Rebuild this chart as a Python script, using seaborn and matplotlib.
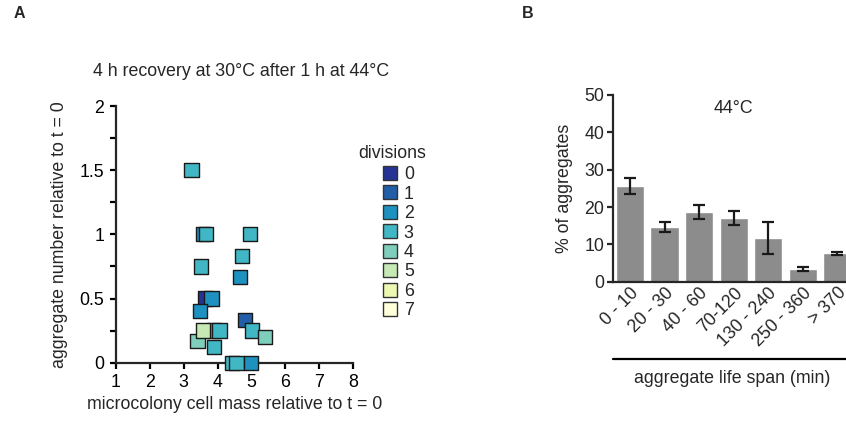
import matplotlib
matplotlib.use("Agg")
import matplotlib.pyplot as plt
from matplotlib.lines import Line2D
import seaborn as sns
import pandas as pd
import numpy as np

sns.set_style("ticks")
plt.rcParams['font.family'] = ['Liberation Sans', 'DejaVu Sans']
FS = 12.8

# Panel A data: microcolony mass vs aggregate number, coloured by divisions
cell_mass = [3.23, 3.57, 3.65, 4.95, 4.72, 3.51, 4.67, 3.64, 3.82, 3.48, 4.81,
             5.02, 5.40, 3.41, 3.90, 3.58, 4.06, 3.89, 4.43, 4.56, 4.99]
agg_number = [1.5, 1.0, 1.0, 1.0, 0.833, 0.75, 0.667, 0.5, 0.5, 0.4, 0.333,
              0.25, 0.2, 0.167, 0.25, 0.25, 0.25, 0.125, 0.0, 0.0, 0.0]
divisions = [3, 2, 3, 3, 3, 3, 2, 0, 2, 2, 1,
             3, 4, 4, 3, 5, 3, 3, 3, 3, 2]
division_levels = [0, 1, 2, 3, 4, 5, 6, 7]
division_colors = ['#253494', '#225ea8', '#1d91c0', '#41b6c4',
                   '#7fcdbb', '#c7e9b4', '#edf8b1', '#ffffd9']

# Panel B data: aggregate life span distribution at 44C
span_labels = ['0 - 10', '20 - 30', '40 - 60', '70-120', '130 - 240', '250 - 360', '> 370']
pct_aggregates = [25.7, 14.7, 18.7, 17.1, 11.7, 3.4, 7.6]
pct_err = [2.2, 1.3, 1.9, 1.9, 4.3, 0.6, 0.35]

df_a = pd.DataFrame({'mass': cell_mass, 'agg': agg_number, 'div': divisions})
df_b = pd.DataFrame({'span': span_labels, 'pct': pct_aggregates, 'err': pct_err})

fig = plt.figure(figsize=(8.46, 4.21), dpi=100)

# ---- Panel A ----
ax1 = fig.add_axes([0.1371, 0.1385, 0.2801, 0.6097])
palette = dict(zip(division_levels, division_colors))
sns.scatterplot(data=df_a, x='mass', y='agg', hue='div', palette=palette,
                hue_order=division_levels, marker='s', s=105,
                edgecolor='#1a1a1a', linewidth=1.0, legend=False, ax=ax1)
for c in ax1.collections:
    c.set_clip_on(False)
    c.set_zorder(5)
ax1.set_xlim(1, 8)
ax1.set_ylim(0, 2)
ax1.set_xticks(range(1, 9))
yt = np.arange(0, 2.01, 0.25)
ax1.set_yticks(yt)
ax1.set_yticklabels(['0', '', '0.5', '', '1', '', '1.5', '', '2'])
for s in ['top', 'right']:
    ax1.spines[s].set_visible(False)
for s in ['left', 'bottom']:
    ax1.spines[s].set_linewidth(1.6)
ax1.tick_params(width=1.6, length=4.5, labelsize=FS, colors='black', pad=4)
ax1.set_xlabel('microcolony cell mass relative to t = 0', fontsize=FS, labelpad=3)
ax1.set_ylabel('aggregate number relative to t = 0', fontsize=FS, labelpad=8)
fig.text(0.2849, 0.829, '4 h recovery at 30°C after 1 h at 44°C', fontsize=FS,
         ha='center', va='center')

handles = [Line2D([], [], marker='s', linestyle='', markersize=10.5,
                  markerfacecolor=palette[d], markeredgecolor='#333333',
                  markeredgewidth=1.0) for d in division_levels]
leg = ax1.legend(handles, [str(d) for d in division_levels], title='divisions',
                 frameon=False, fontsize=FS, title_fontsize=FS,
                 loc='upper left', bbox_to_anchor=(0.420, 0.673),
                 bbox_transform=fig.transFigure, handlelength=0.9,
                 handletextpad=0.3, labelspacing=0.14, borderpad=0)
leg.get_title().set_position((-6, 2))

# ---- Panel B ----
ax2 = fig.add_axes([0.7243, 0.3309, 0.286, 0.4435])
sns.barplot(data=df_b, x='span', y='pct', color='#8c8c8c', saturation=1,
            width=0.82, errorbar=None, ax=ax2)
ax2.errorbar(np.arange(len(span_labels)), df_b['pct'], yerr=df_b['err'],
             fmt='none', ecolor='#1a1a1a', elinewidth=1.6, capsize=4, capthick=1.6)
ax2.set_xlim(-0.5, 6.5)
ax2.set_ylim(0, 50)
ax2.set_yticks(range(0, 51, 10))
for s in ['top', 'right']:
    ax2.spines[s].set_visible(False)
for s in ['left', 'bottom']:
    ax2.spines[s].set_linewidth(1.6)
ax2.tick_params(axis='y', width=1.6, length=4, labelsize=FS, pad=2)
ax2.tick_params(axis='x', length=0, labelsize=FS, pad=2)
plt.setp(ax2.get_xticklabels(), rotation=45, ha='right', rotation_mode='anchor')
ax2.set_xlabel('')
ax2.set_ylabel('% of aggregates', fontsize=FS, labelpad=8)
ax2.text(0.5, 0.93, '44°C', transform=ax2.transAxes, ha='center', va='center', fontsize=FS)

fig.add_artist(Line2D([0.7246, 1.0], [0.1466, 0.1466], color='black', linewidth=1.6,
                      transform=fig.transFigure))
fig.text(0.865, 0.102, 'aggregate life span (min)', ha='center', va='center', fontsize=FS)

fig.text(0.0225, 0.967, 'A', fontsize=11.5, fontweight='bold', ha='center', va='center')
fig.text(0.624, 0.967, 'B', fontsize=11.5, fontweight='bold', ha='center', va='center')

fig.savefig('out.png', dpi=100)
